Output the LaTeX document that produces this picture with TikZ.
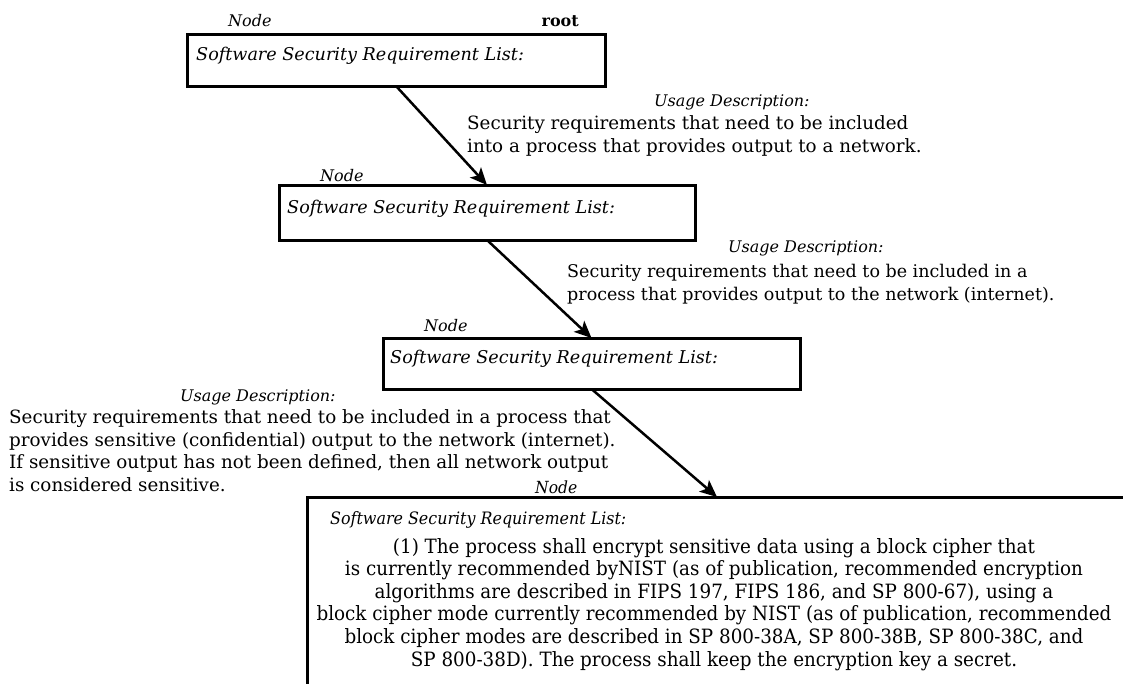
\documentclass[tikz,border=0pt]{standalone}
\usepackage{fontspec}
\setmainfont{DejaVu Serif}
\newfontfamily\narrowserif[FakeStretch=0.93]{DejaVu Serif}
\usetikzlibrary{arrows.meta}
\tikzset{
  reqbox/.style={draw, line width=3pt, inner sep=0pt, outer sep=0pt},
  lbl/.style={inner sep=0pt, anchor=base west, font=\fontsize{16}{19}\selectfont\itshape},
  ttl/.style={inner sep=0pt, anchor=base west, font=\fontsize{17.6}{20}\selectfont\itshape},
  desc/.style={inner sep=0pt, anchor=base west, align=left, font=\fontsize{18.3}{22.5}\selectfont},
  flow/.style={line width=2.5pt, -{Stealth[length=17pt, width=15pt, inset=4pt]}}
}
\begin{document}
\begin{tikzpicture}[x=1pt, y=-1pt]
\useasboundingbox (0,0) rectangle (1123,683);
\clip (0,0) rectangle (1123,683);

% requirement boxes
\node[reqbox, minimum width=418pt, minimum height=52pt] (b1) at (396,60) {};
\node[reqbox, minimum width=416pt, minimum height=55pt] (b2) at (487,212.5) {};
\node[reqbox, minimum width=417pt, minimum height=51pt] (b3) at (591.5,363.5) {};
\node[reqbox, minimum width=820pt, minimum height=206pt] (b4) at (717,600) {};

% node captions
\node[lbl] (n1) at (228,26) {Node};
\node[inner sep=0pt, anchor=base east, font=\fontsize{16}{19}\selectfont\bfseries] (root) at (579,26) {root};
\node[lbl] (n2) at (320,181) {Node};
\node[lbl] (n3) at (424,331) {Node};
\node[lbl, font=\fontsize{16.7}{19}\selectfont\narrowserif\itshape] (n4) at (535,493) {Node};

% list titles inside the boxes
\node[ttl] (t1) at (196,60) {Software Security Requirement List:};
\node[ttl] (t2) at (287,213) {Software Security Requirement List:};
\node[ttl] (t3) at (390,363) {Software Security Requirement List:};
\node[ttl, font=\fontsize{17.1}{20}\selectfont\narrowserif\itshape] (t4) at (330,524) {Software Security Requirement List:};

% requirement text of the leaf box
\node[inner sep=0pt, anchor=base, align=center, font=\fontsize{19.7}{22.6}\selectfont\narrowserif] (r4) at (714,666)
{(1) The process shall encrypt sensitive data using a block cipher that\\
is currently recommended byNIST (as of publication, recommended encryption\\
algorithms are described in FIPS 197, FIPS 186, and SP 800-67), using a\\
block cipher mode currently recommended by NIST (as of publication, recommended\\
block cipher modes are described in SP 800-38A, SP 800-38B, SP 800-38C, and\\
SP 800-38D). The process shall keep the encryption key a secret.};

% usage descriptions
\node[lbl] (u1) at (654,106) {Usage Description:};
\node[desc] (d1) at (467,152) {Security requirements that need to be included\\
into a process that provides output to a network.};
\node[lbl] (u2) at (728,252) {Usage Description:};
\node[desc, font=\fontsize{17.5}{23}\selectfont] (d2) at (567,300) {Security requirements that need to be included in a\\
process that provides output to the network (internet).};
\node[lbl] (u3) at (180,401) {Usage Description:};
\node[desc] (d3) at (9,491) {Security requirements that need to be included in a process that\\
provides sensitive (confidential) output to the network (internet).\\
If sensitive output has not been defined, then all network output\\
is considered sensitive.};

% refinement arrows
\draw[flow] (b1.south) -- (b2.north);
\draw[flow] (b2.south) -- (b3.north);
\draw[flow] (b3.south) -- (b4.north);
\end{tikzpicture}
\end{document}
